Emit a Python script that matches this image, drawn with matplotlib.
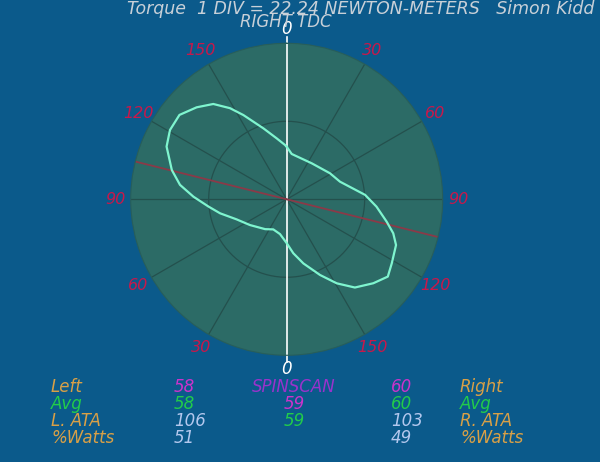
import numpy as np
import matplotlib
matplotlib.use("Agg")
import matplotlib.pyplot as plt

# ----- data -----
NM_PER_DIV = 22.24
N_DIVS = 2

# crank angle (deg, clockwise from right TDC) and torque (N-m)
angle_deg = [0, 6.3, 34.8, 59, 71.7, 86.8, 94.7, 102.6, 107.7, 112.7, 121.4, 127.4,
             134.1, 142.3, 149.2, 156.2, 165.4, 173, 180, 190.9, 204, 215.8, 235,
             248.2, 258.1, 264.7, 271.6, 277.7, 284.3, 293.7, 300.7, 308.2, 315.6,
             322.4, 328.1, 332.8, 341.8, 350.7, 358.2]
torque_nm = [15.0, 13.0, 12.5, 14.4, 16.0, 22.4, 25.7, 29.2, 31.9, 33.8, 35.1, 36.3,
             34.4, 31.8, 27.9, 23.6, 18.9, 15.5, 12.5, 10.1, 9.4, 10.5, 12.8,
             15.4, 19.4, 22.4, 26.6, 30.7, 33.8, 37.4, 38.7, 38.9, 36.7,
             34.3, 30.6, 27.0, 21.3, 17.6, 15.5]

ata_line_deg = 104  # red line through the centre

right_labels = ["30", "60", "90", "120", "150"]
left_labels = ["30", "60", "90", "120", "150"]

left_names = ["Left", "Avg", "L. ATA", "%Watts"]
right_names = ["Right", "Avg", "R. ATA", "%Watts"]
left_vals = ["58", "58", "106", "51"]
right_vals = ["60", "60", "103", "49"]
mid_vals = ["SPINSCAN", "59", "59", ""]

# ----- colours -----
BG = "#0b5a8b"
DISC = "#2c6b66"
SPOKE = "#24504d"
CURVE = "#7ff5cf"
RED_LINE = "#8a3a48"
ANGLE_LBL = "#c8184a"
ORANGE = "#d9a046"
GREEN = "#22cc4a"
MAGENTA = "#cc33cc"
PURPLE = "#9933cc"
LIGHT = "#b4c8ee"
TITLE = "#c8d0d8"

plt.rcParams["font.family"] = ["DejaVu Sans"]

fig = plt.figure(figsize=(6, 4.62), dpi=100, facecolor=BG)
ax = fig.add_axes([0.2178, 0.2310, 0.52, 0.6753], projection="polar")
ax.set_facecolor(DISC)
ax.set_theta_zero_location("N")
ax.set_theta_direction(-1)
rmax = NM_PER_DIV * N_DIVS
ax.set_ylim(0, rmax)
ax.grid(False)
ax.set_xticks([])
ax.set_yticks([])
ax.spines["polar"].set_color("#285e5a")
ax.spines["polar"].set_linewidth(0.8)

# spokes every 30 degrees
for a in range(30, 180, 30):
    t = np.radians(a)
    ax.plot([t, t], [0, rmax], color=SPOKE, lw=0.9)
    ax.plot([t + np.pi, t + np.pi], [0, rmax], color=SPOKE, lw=0.9)

# inner ring
ring_t = np.linspace(0, 2 * np.pi, 300)
for d in range(1, N_DIVS):
    ax.plot(ring_t, np.full_like(ring_t, d * NM_PER_DIV), color=SPOKE, lw=0.9)

# vertical TDC line
ax.plot([0, 0], [0, rmax * 1.04], color="white", lw=1.2, clip_on=False)
ax.plot([np.pi, np.pi], [0, rmax * 1.04], color="white", lw=1.2, clip_on=False)

# ATA line
t_ata = np.radians(ata_line_deg)
ax.plot([t_ata, t_ata], [0, rmax], color=RED_LINE, lw=1.3)
ax.plot([t_ata + np.pi, t_ata + np.pi], [0, rmax], color=RED_LINE, lw=1.3)

# torque curve
th = np.radians(angle_deg + [angle_deg[0]])
rr = torque_nm + [torque_nm[0]]
ax.plot(th, rr, color=CURVE, lw=1.6)

# angle labels
lbl_r = rmax * 1.1
for i, s in enumerate(right_labels):
    ax.text(np.radians(30 * (i + 1)), lbl_r, s, color=ANGLE_LBL, fontsize=11.5,
            style="italic", ha="center", va="center", clip_on=False)
for i, s in enumerate(left_labels):
    ax.text(np.radians(180 + 30 * (i + 1)), lbl_r, s, color=ANGLE_LBL, fontsize=11.5,
            style="italic", ha="center", va="center", clip_on=False)
ax.text(0, rmax * 1.09, "0", color="white", fontsize=12, style="italic",
        ha="center", va="center", clip_on=False)
ax.text(np.pi, rmax * 1.09, "0", color="white", fontsize=12, style="italic",
        ha="center", va="center", clip_on=False)

# header
fig.text(594 / 600, 1 - 9 / 462, "Torque  1 DIV = %.2f NEWTON-METERS   Simon Kidd" % NM_PER_DIV,
         color=TITLE, fontsize=12.5, style="italic", ha="right", va="center")
fig.text(286 / 600, 1 - 22 / 462, "RIGHT TDC", color=TITLE, fontsize=12,
         style="italic", ha="center", va="center")

# bottom table
row_y = [387, 404, 421, 438]
left_name_col = [ORANGE, GREEN, ORANGE, ORANGE]
left_val_col = [MAGENTA, GREEN, LIGHT, LIGHT]
mid_col = [PURPLE, MAGENTA, GREEN, GREEN]
for i in range(4):
    y = 1 - row_y[i] / 462
    kw = dict(fontsize=12, style="italic", va="center")
    fig.text(51 / 600, y, left_names[i], color=left_name_col[i], ha="left", **kw)
    fig.text(174 / 600, y, left_vals[i], color=left_val_col[i], ha="left", **kw)
    fig.text(294 / 600, y, mid_vals[i], color=mid_col[i], ha="center", **kw)
    fig.text(391 / 600, y, right_vals[i], color=left_val_col[i], ha="left", **kw)
    fig.text(460 / 600, y, right_names[i], color=left_name_col[i], ha="left", **kw)

fig.savefig("out.png", dpi=100, facecolor=BG)
